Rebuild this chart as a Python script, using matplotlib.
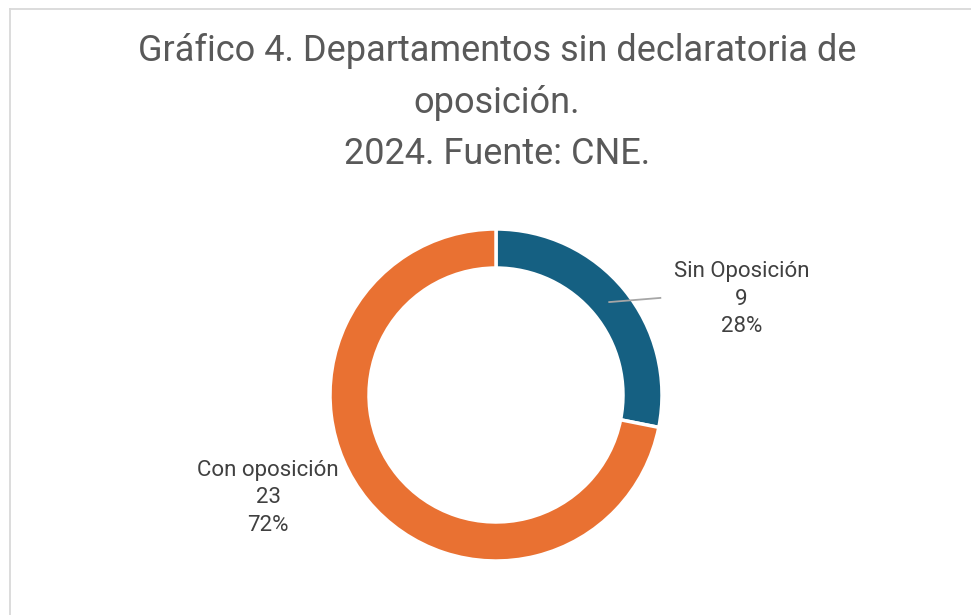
import matplotlib
matplotlib.use("Agg")
import matplotlib.pyplot as plt
import numpy as np
from matplotlib.lines import Line2D

# data
categorias = ["Sin Oposición", "Con oposición"]
valores = [9, 23]
colores = ["#156082", "#E97132"]
titulo = "Gráfico 4. Departamentos sin declaratoria de\noposición.\n2024. Fuente: CNE."

W, H = 971, 615
fig = plt.figure(figsize=(W / 100, H / 100), dpi=100)
fig.patch.set_facecolor("white")

# frame (only left and top visible in the crop)
fig.add_artist(Line2D([9.5 / W, 9.5 / W], [0, 1 - 8.5 / H], color="#d9d9d9", lw=1.3))
fig.add_artist(Line2D([9.5 / W, 1], [1 - 8.5 / H, 1 - 8.5 / H], color="#d9d9d9", lw=1.3))

fig.text(497 / W, 1 - 33 / H, titulo, ha="center", va="top", fontsize=26,
         color="#595959", linespacing=1.56, family="Roboto")

cx, cy, r = 496, 395, 166
ax = fig.add_axes([(cx - r) / W, (H - cy - r) / H, 2 * r / W, 2 * r / H])
wedges, _ = ax.pie(valores, colors=colores, startangle=90, counterclock=False,
                   radius=1, wedgeprops=dict(width=0.235, edgecolor="white", linewidth=2.5))
ax.set_xlim(-1, 1)
ax.set_ylim(-1, 1)
ax.axis("off")

total = sum(valores)
etiquetas = [f"{c}\n{v}\n{round(100 * v / total)}%" for c, v in zip(categorias, valores)]

# Sin Oposición label with leader line
w = wedges[0]
ang = np.deg2rad((w.theta1 + w.theta2) / 2)
rm = 1 - 0.235 / 2
x0, y0 = rm * np.cos(ang), rm * np.sin(ang)
ax.plot([x0, 0.99], [y0, y0 + 0.025], color="#a6a6a6", lw=1.3, clip_on=False)
ax.text(1.48, 0.578, etiquetas[0], ha="center", va="center", fontsize=16,
        color="#404040", linespacing=1.42, family="Roboto")

# Con oposición label
ax.text(-1.373, -0.62, etiquetas[1], ha="center", va="center", fontsize=16,
        color="#404040", linespacing=1.42, family="Roboto")

fig.savefig("out.png", dpi=100, facecolor="white")
